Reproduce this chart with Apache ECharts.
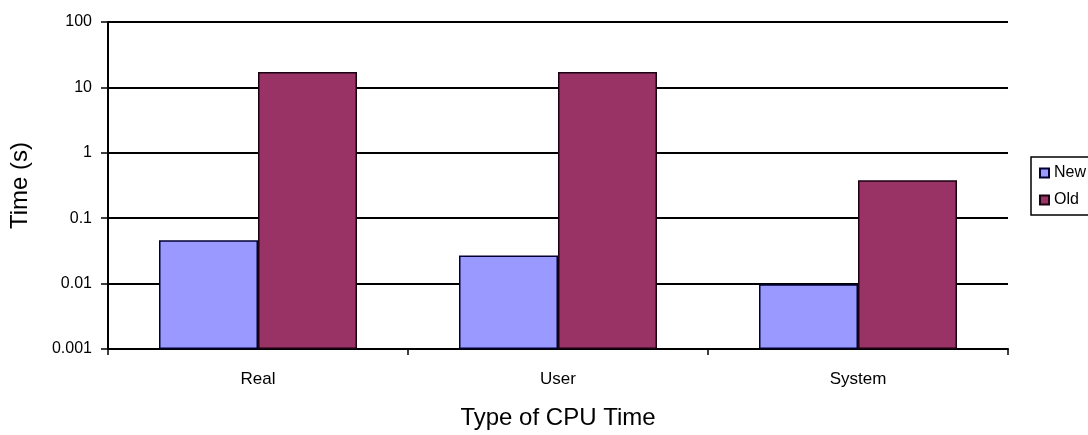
<!DOCTYPE html>
<html>
<head>
<meta charset="utf-8">
<script src="https://cdn.jsdelivr.net/npm/echarts@6/dist/echarts.min.js"></script>
<style>
  html, body { margin: 0; padding: 0; background: #fff; }
  #chart { width: 1088px; height: 435px; }
</style>
</head>
<body>
<div id="chart"></div>
<script>
// categories and values (log scale, seconds)
var categories = ['Real', 'User', 'System'];
var newTimes = [0.046, 0.027, 0.0098];
var oldTimes = [17.2, 17.2, 0.38];
var seriesNames = ['New', 'Old'];

(function () {
    var chart = echarts.init(document.getElementById('chart'));
    var font = '"Liberation Sans", Arial, sans-serif';

    var option = {
        backgroundColor: '#fff',
        animation: false,
        textStyle: { fontFamily: font, color: '#000' },
        grid: { left: 107, right: 80, top: 22, bottom: 85 },
        legend: {
            data: seriesNames,
            orient: 'vertical',
            left: 1031,
            top: 157,
            icon: 'rect',
            itemWidth: 9,
            itemHeight: 9,
            itemGap: 11,
            padding: [8, 10, 7, 8],
            borderColor: '#000',
            borderWidth: 1.5,
            textStyle: { fontSize: 16, color: '#000', fontFamily: font }
        },
        xAxis: {
            type: 'category',
            data: categories,
            name: 'Type of CPU Time',
            nameLocation: 'middle',
            nameGap: 57,
            nameTextStyle: { fontSize: 24, color: '#000', fontFamily: font },
            axisLine: { lineStyle: { color: '#000', width: 2 } },
            axisTick: { show: true, length: 6, lineStyle: { color: '#000', width: 1.5 } },
            axisLabel: { fontSize: 17, color: '#000', margin: 22, fontFamily: font },
            splitLine: { show: false }
        },
        yAxis: {
            type: 'log',
            logBase: 10,
            min: 0.001,
            max: 100,
            startValue: 0.001,
            name: 'Time (s)',
            nameLocation: 'middle',
            nameRotate: 90,
            nameGap: 76,
            nameTextStyle: { fontSize: 24, color: '#000', fontFamily: font },
            axisLine: { show: true, lineStyle: { color: '#000', width: 2 } },
            axisTick: { show: true, length: 7, lineStyle: { color: '#000', width: 1.5 } },
            axisLabel: {
                fontSize: 16,
                color: '#000',
                margin: 16,
                fontFamily: font,
                formatter: function (v) { return String(+v.toPrecision(3)); }
            },
            splitLine: { show: true, lineStyle: { color: '#000', width: 2 } }
        },
        series: [
            {
                name: seriesNames[0],
                type: 'bar',
                data: newTimes,
                barGap: '0%',
                barCategoryGap: '34%',
                itemStyle: { color: '#9999ff', borderColor: '#000033', borderWidth: 1.5 }
            },
            {
                name: seriesNames[1],
                type: 'bar',
                data: oldTimes,
                barGap: '0%',
                barCategoryGap: '34%',
                itemStyle: { color: '#993366', borderColor: '#1a0010', borderWidth: 1.5 }
            }
        ]
    };

    chart.setOption(option);
})();
</script>
</body>
</html>
